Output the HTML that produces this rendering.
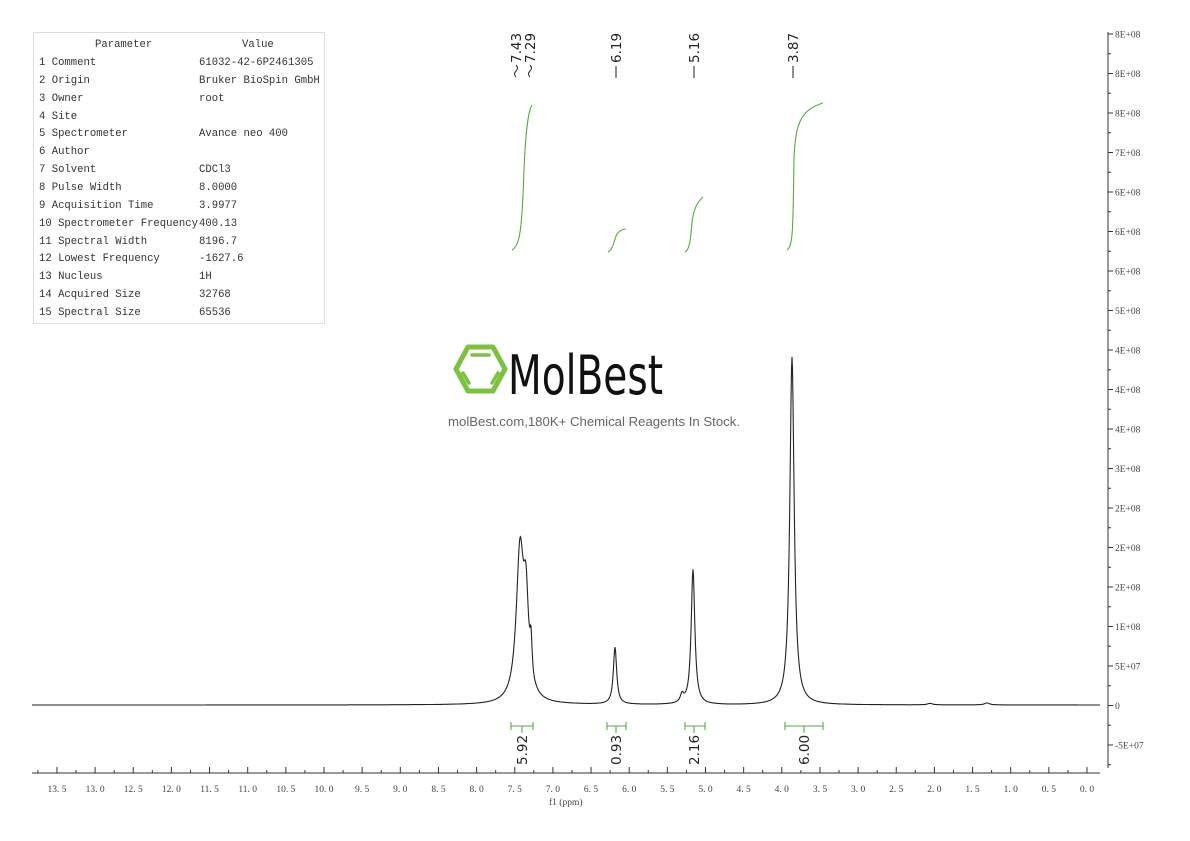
<!DOCTYPE html>
<html><head><meta charset="utf-8"><style>
html,body{margin:0;padding:0;background:#fff;}
svg{display:block;}
.t{font-family:"Liberation Mono","Noto Serif CJK SC",monospace;font-size:10.6px;fill:#333;}
.ax{font-family:"Liberation Serif",serif;font-size:9.5px;fill:#444;}
.lb{font-family:"DejaVu Sans","Liberation Sans",sans-serif;font-size:13.5px;fill:#222;}
</style></head><body>
<svg id="s" width="1190" height="841" viewBox="0 0 1190 841" xmlns="http://www.w3.org/2000/svg">
<rect x="33.5" y="32.5" width="291" height="291" fill="none" stroke="#ddd"/>
<g class="t">
<text x="95" y="47">Parameter</text><text x="242" y="47">Value</text>
<text x="39" y="65">1 Comment</text><text x="199" y="65">61032-42-6P2461305</text>
<text x="39" y="83">2 Origin</text><text x="199" y="83">Bruker BioSpin GmbH</text>
<text x="39" y="101">3 Owner</text><text x="199" y="101">root</text>
<text x="39" y="119">4 Site</text>
<text x="39" y="136">5 Spectrometer</text><text x="199" y="136">Avance neo 400</text>
<text x="39" y="154">6 Author</text>
<text x="39" y="172">7 Solvent</text><text x="199" y="172">CDCl3</text>
<text x="39" y="190">8 Pulse Width</text><text x="199" y="190">8.0000</text>
<text x="39" y="208">9 Acquisition Time</text><text x="199" y="208">3.9977</text>
<text x="39" y="226">10 Spectrometer Frequency</text><text x="199" y="226">400.13</text>
<text x="39" y="244">11 Spectral Width</text><text x="199" y="244">8196.7</text>
<text x="39" y="261">12 Lowest Frequency</text><text x="199" y="261">-1627.6</text>
<text x="39" y="279">13 Nucleus</text><text x="199" y="279">1H</text>
<text x="39" y="297">14 Acquired Size</text><text x="199" y="297">32768</text>
<text x="39" y="315">15 Spectral Size</text><text x="199" y="315">65536</text>
</g>
<g fill="none" stroke="#7cc142" stroke-width="5" stroke-linejoin="round">
<polygon points="468,347 493,347 505,369 493,391 468,391 456,369"/>
</g>
<g stroke="#7cc142" stroke-width="3.5" stroke-linecap="round">
<line x1="472" y1="355" x2="489" y2="355"/>
<line x1="463" y1="373" x2="469" y2="383"/>
<line x1="498" y1="373" x2="492" y2="383"/>
</g>
<text x="508" y="394" font-family="'DejaVu Sans Condensed','Liberation Sans Narrow','Liberation Sans',sans-serif" font-size="54" textLength="155" lengthAdjust="spacingAndGlyphs" fill="#111">MolBest</text>
<text x="448" y="426" font-family="'Liberation Sans',sans-serif" font-size="12.5" fill="#666" textLength="292" lengthAdjust="spacingAndGlyphs">molBest.com,180K+ Chemical Reagents In Stock.</text>
<line x1="1108" y1="32" x2="1108" y2="768" stroke="#333"/>
<line x1="32" y1="773" x2="1100" y2="773" stroke="#333"/>
<g id="ticks"></g>
<g fill="none" stroke="#5aa845" stroke-width="1.1">
<path d="M512,250 C520,245 522,230 524,170 C526,120 530,108 532,105"/>
<path d="M608,252 C613,250 614,240 617,234 C620,230 623,229 626,229"/>
<path d="M685,252 C690,250 691,235 692,222 C694,205 700,200 703,197"/>
<path d="M787,250 C793,246 793,230 794,160 C795,125 800,110 823,103"/>
<line x1="511" y1="726" x2="533" y2="726"/><line x1="511" y1="722" x2="511" y2="730"/><line x1="533" y1="722" x2="533" y2="730"/><line x1="522" y1="726" x2="522" y2="733"/>
<line x1="607" y1="726" x2="626" y2="726"/><line x1="607" y1="722" x2="607" y2="730"/><line x1="626" y1="722" x2="626" y2="730"/><line x1="616" y1="726" x2="616" y2="733"/>
<line x1="685" y1="726" x2="705" y2="726"/><line x1="685" y1="722" x2="685" y2="730"/><line x1="705" y1="722" x2="705" y2="730"/><line x1="694" y1="726" x2="694" y2="733"/>
<line x1="785" y1="726" x2="823" y2="726"/><line x1="785" y1="722" x2="785" y2="730"/><line x1="823" y1="722" x2="823" y2="730"/><line x1="804" y1="726" x2="804" y2="733"/>
</g>
<g class="lb">
<text transform="translate(527,765) rotate(-90)">5.92</text>
<text transform="translate(621,765) rotate(-90)">0.93</text>
<text transform="translate(699,765) rotate(-90)">2.16</text>
<text transform="translate(809,765) rotate(-90)">6.00</text>
<text transform="translate(521,63) rotate(-90)">7.43</text>
<text transform="translate(535,63) rotate(-90)">7.29</text>
<text transform="translate(621,63) rotate(-90)">6.19</text>
<text transform="translate(699,63) rotate(-90)">5.16</text>
<text transform="translate(798,63) rotate(-90)">3.87</text>
</g>
<g fill="none" stroke="#222" stroke-width="1">
<path d="M516,77 q-3,-3 0,-6 q3,-3 0,-6"/>
<path d="M530,77 q-3,-3 0,-6 q3,-3 0,-6"/>
<line x1="616" y1="66" x2="616" y2="78"/>
<line x1="694" y1="66" x2="694" y2="78"/>
<line x1="793" y1="66" x2="793" y2="78"/>
</g>
<path id="spec" fill="none" stroke="#222" stroke-width="1.1" d=""/>
<text x="549" y="805" class="ax">f1 (ppm)</text>
</svg>
<script>
(function(){
var NS="http://www.w3.org/2000/svg",g=document.getElementById('ticks');
function el(n,a,t){var e=document.createElementNS(NS,n);for(var k in a)e.setAttribute(k,a[k]);if(t)e.textContent=t;g.appendChild(e);}
var X=function(p){return 1087-76.3*p;};
for(var i=0;i<=55;i++){var p=i*0.25,x=X(p);if(x<32)continue;
 el('line',{x1:x,y1:773,x2:x,y2:(i%2?770:767),stroke:'#333'});
 if(i%2==0)el('text',{x:x,y:792,'text-anchor':'middle','class':'ax'},p.toFixed(1).replace('.','. '));}
var labs=['8E+08','8E+08','8E+08','7E+08','6E+08','6E+08','6E+08','5E+08','4E+08','4E+08','4E+08','3E+08','2E+08','2E+08','2E+08','1E+08','5E+07','0','-5E+07'];
for(var j=0;j<labs.length;j++){var y=34+j*39.5;
 if(y<=768){el('line',{x1:1108,y1:y,x2:1113,y2:y,stroke:'#333'});el('text',{x:1115,y:y+3.5,'class':'ax'},labs[j]);}
 var ym=y+19.75;if(ym<768)el('line',{x1:1108,y1:ym,x2:1111,y2:ym,stroke:'#333'});}
var pk=[[520,150,4.5],[526,85,3],[531,35,1.3],[615,57,2],[693,135,2.2],[792,348,2.6],[682,8,2],[987,2,3],[930,1.5,3]];
var d='';
for(var x=32;x<=1100;x+=0.5){var b=705;var s=0;
 for(var k=0;k<pk.length;k++){var u=(x-pk[k][0])/pk[k][2];s+=pk[k][1]/(1+u*u);}
 if(x>535&&x<785)b+=(x-535)/250*0.8-0.5;
 d+=(d?'L':'M')+x.toFixed(1)+','+(b-s).toFixed(1);}
document.getElementById('spec').setAttribute('d',d);
})();
</script>
</body></html>
